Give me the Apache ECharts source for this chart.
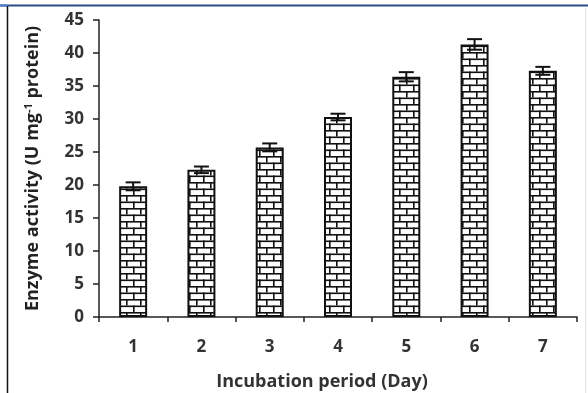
<!DOCTYPE html>
<html><head><meta charset="utf-8">
<script src="https://cdn.jsdelivr.net/npm/echarts@6/dist/echarts.min.js"></script>
<style>html,body{margin:0;padding:0;background:#fff}#c{width:588px;height:393px}</style>
</head><body><div id="c"></div>
<script>
const categories = ['1','2','3','4','5','6','7'];
const activity = [19.8, 22.3, 25.7, 30.3, 36.4, 41.3, 37.3];
const errors = [0.6, 0.5, 0.6, 0.5, 0.7, 0.8, 0.6];
const yTicks = [0,5,10,15,20,25,30,35,40,45];

function brick(){
  const c = document.createElement('canvas');
  c.width = 14; c.height = 13;
  const g = c.getContext('2d');
  g.fillStyle = '#fff'; g.fillRect(0,0,14,13);
  g.fillStyle = '#111';
  g.fillRect(0,0,14,1.6);
  g.fillRect(0,6.5,14,1.6);
  g.fillRect(0,0,1.6,6.5);
  g.fillRect(7,6.5,1.6,6.5);
  return c;
}

const chart = echarts.init(document.getElementById('c'), null, {renderer:'canvas'});
const FONT = '"Open Sans", Lato, sans-serif';
chart.setOption({
  animation:false,
  grid:{left:99,right:11,top:20,bottom:76,containLabel:false,outerBoundsMode:'none'},
  graphic:[
    {type:'line',shape:{x1:0,y1:5.5,x2:588,y2:5.5},style:{stroke:'#2a4f86',lineWidth:2}},
    {type:'line',shape:{x1:0,y1:5.5,x2:8,y2:5.5},style:{stroke:'#4a7fc4',lineWidth:2}},
    {type:'line',shape:{x1:7.5,y1:6,x2:7.5,y2:393},style:{stroke:'#111',lineWidth:1.5}},
    {type:'line',shape:{x1:585.5,y1:8,x2:585.5,y2:393},style:{stroke:'#e4e4e4',lineWidth:1}}
  ],
  xAxis:{
    type:'category',data:categories,
    name:'Incubation period (Day)',nameLocation:'middle',nameGap:56,
    nameTextStyle:{fontFamily:FONT,fontWeight:'bold',fontSize:18,color:'#333',padding:[0,32,0,0]},
    axisLine:{lineStyle:{color:'#222',width:1.5}},
    axisTick:{show:true,alignWithLabel:false,length:5,lineStyle:{color:'#222',width:1.5}},
    axisLabel:{fontFamily:FONT,fontWeight:'bold',fontSize:17,color:'#333',margin:22}
  },
  yAxis:{
    type:'value',min:0,max:45,interval:5,
    name:'{a|Enzyme activity (U mg}{s|-1}{a| protein)}',nameLocation:'middle',nameGap:56,
    nameTextStyle:{rich:{
      a:{fontFamily:FONT,fontWeight:'bold',fontSize:18,color:'#222'},
      s:{fontFamily:FONT,fontWeight:'bold',fontSize:11,color:'#222',verticalAlign:'top',padding:[0,0,9,0]}
    }},
    axisLine:{show:true,lineStyle:{color:'#222',width:1.5}},
    axisTick:{show:true,length:6,lineStyle:{color:'#222',width:1.5}},
    splitLine:{show:false},
    axisLabel:{fontFamily:FONT,fontWeight:'bold',fontSize:17,color:'#333',margin:15,
      formatter:v=>yTicks.includes(v)?String(v):''}
  },
  series:[
    {type:'bar',data:activity,barWidth:'41%',
     itemStyle:{color:{image:brick(),repeat:'repeat'},borderColor:'#111',borderWidth:2}},
    {type:'custom',z:5,
     data:activity.map((v,i)=>[i,v,errors[i]]),
     renderItem:function(params,api){
       const i=api.value(0),v=api.value(1),e=api.value(2);
       const top=api.coord([i,v+e]), bot=api.coord([i,v-e]);
       const hw=7.5;
       const st={stroke:'#111',lineWidth:2};
       return {type:'group',children:[
         {type:'line',shape:{x1:top[0],y1:top[1],x2:bot[0],y2:bot[1]},style:st},
         {type:'line',shape:{x1:top[0]-hw,y1:top[1],x2:top[0]+hw,y2:top[1]},style:st},
         {type:'line',shape:{x1:bot[0]-hw,y1:bot[1],x2:bot[0]+hw,y2:bot[1]},style:st}
       ]};
     }}
  ]
});
</script></body></html>
